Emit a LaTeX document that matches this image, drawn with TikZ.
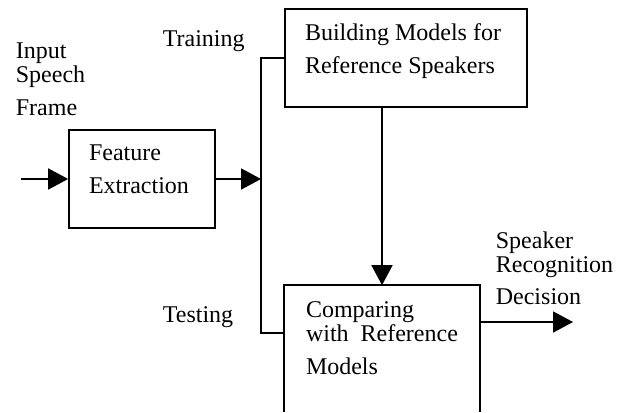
\documentclass[tikz,border=0pt]{standalone}
\usepackage{fontspec}
\setmainfont{Liberation Serif}
\usetikzlibrary{arrows.meta, calc, positioning}

\begin{document}
\begin{tikzpicture}[x=1pt, y=1pt, line width=1.7pt,
    lbl/.style={inner sep=0pt, align=left, anchor=base west, font=\fontsize{24}{24}\selectfont},
    arr/.style={-{Triangle[length=20pt, width=21pt]}}]
    \useasboundingbox (0,0) rectangle (626,412);
    % Blocks
    \node[draw, minimum width=146pt, minimum height=98pt] (feat) at (142,233) {};
    \node[draw, minimum width=242pt, minimum height=98pt] (bld) at (406,354) {};
    \node[minimum width=194pt, minimum height=94pt] (cmp) at (382,79) {};
    \coordinate (bottom) at (0,0);
    % comparing box runs off the page, no bottom edge
    \draw (cmp.west |- bottom) -- (cmp.north west) -- (cmp.north east) -- (cmp.east |- bottom);
    % block texts sit on the baseline of their last line
    \node[lbl] (feattxt) at ($(feat.north west)+(20,-64)$) {Feature\\[9pt]Extraction};
    \node[lbl] (bldtxt) at ($(bld.north west)+(20,-65)$) {Building Models for\\[9pt]Reference Speakers};
    \node[lbl] (cmptxt) at ($(cmp.north west)+(21,-89)$) {Comparing\\with~ Reference\\[9pt]Models};
    % Outside labels
    \node[lbl] (input) at (15,296) {Input\\Speech\\[9pt]Frame};
    \node[lbl] (train) at (162,365) {Training};
    \node[lbl] (test) at (162,89) {Testing};
    \node[lbl] (decision) at (495,107) {Speaker\\Recognition\\[8pt]Decision};
    % Connectors
    \coordinate (src) at (21,233);
    \coordinate (split) at (261,233);
    \coordinate (dec) at (573,90);
    \draw[arr] (src) -- (feat);
    \draw[arr] (feat) -- (split);
    \draw (bld.west) -| (split) |- (cmp.west);
    \draw[arr] (bld.south -| cmp.north) -- (cmp.north);
    \draw[arr] (cmp.east |- dec) -- (dec);
\end{tikzpicture}
\end{document}
